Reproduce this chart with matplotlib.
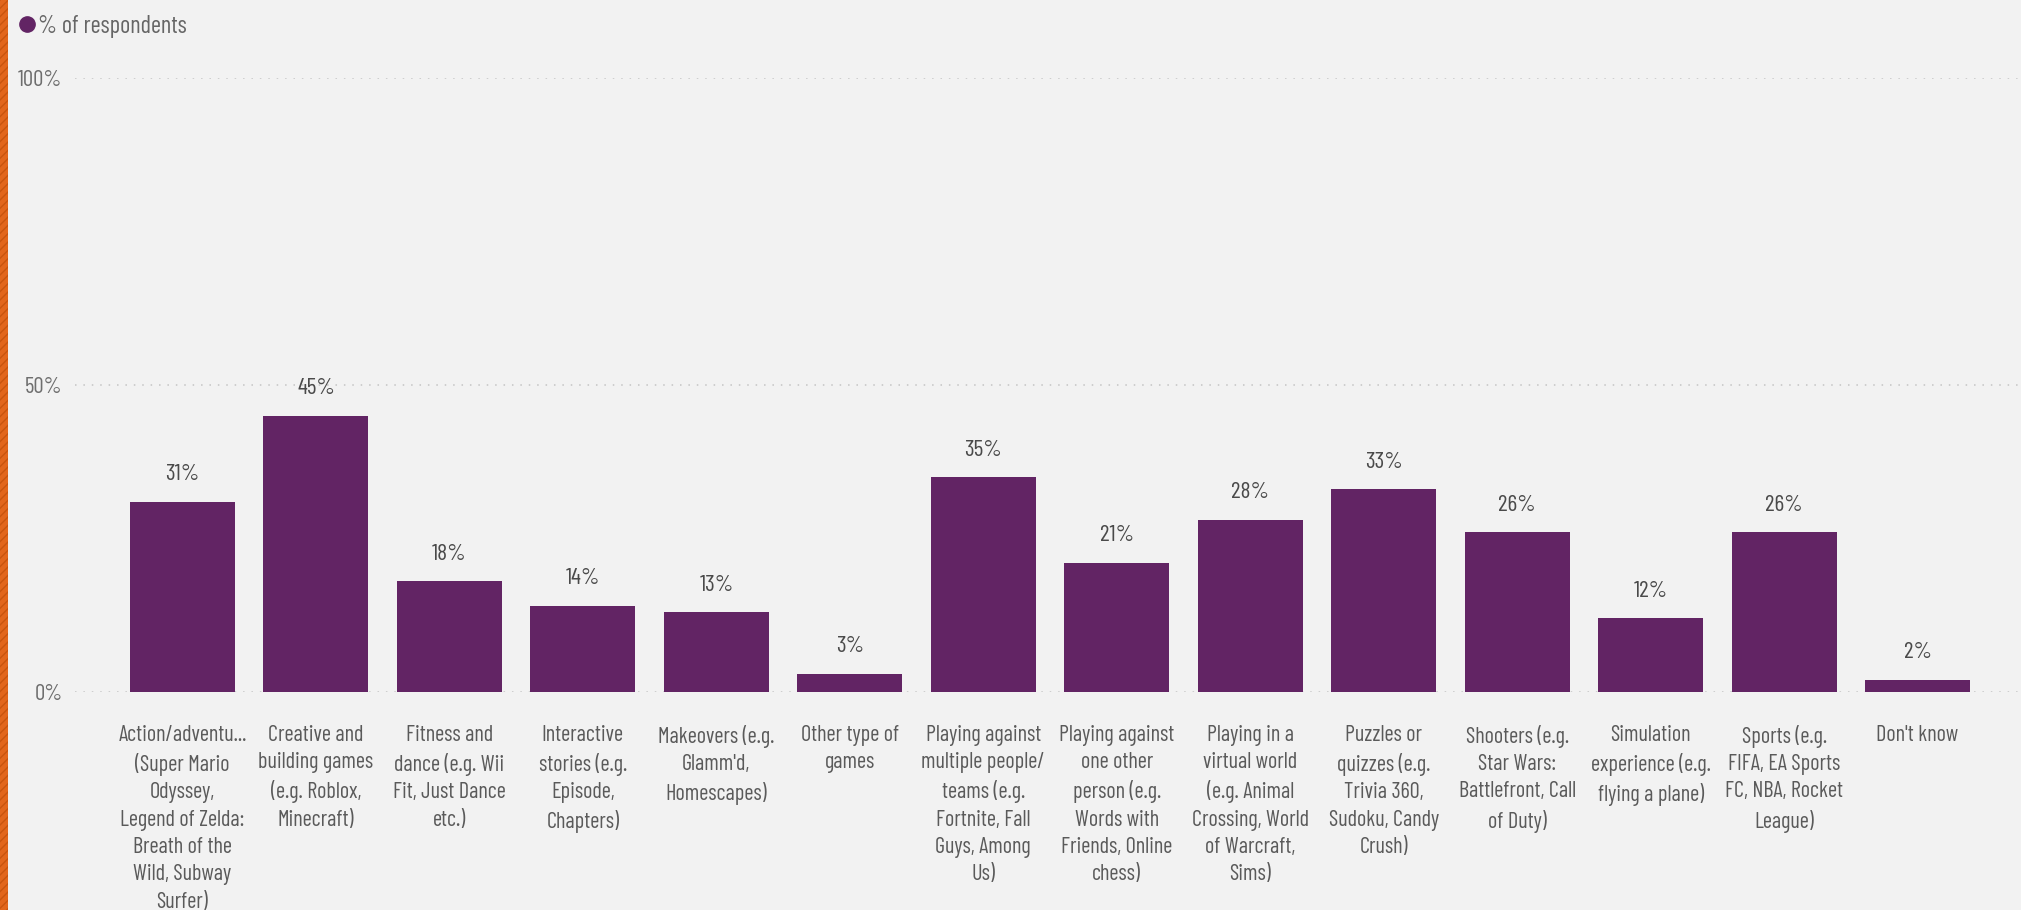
import matplotlib
matplotlib.use("Agg")
import matplotlib.pyplot as plt
from matplotlib import font_manager
from matplotlib.lines import Line2D
from matplotlib.patches import Rectangle

categories = [
    "Action/adventu...\n(Super Mario\nOdyssey,\nLegend of Zelda:\nBreath of the\nWild, Subway\nSurfer)",
    "Creative and\nbuilding games\n(e.g. Roblox,\nMinecraft)",
    "Fitness and\ndance (e.g. Wii\nFit, Just Dance\netc.)",
    "Interactive\nstories (e.g.\nEpisode,\nChapters)",
    "Makeovers (e.g.\nGlamm'd,\nHomescapes)",
    "Other type of\ngames",
    "Playing against\nmultiple people/\nteams (e.g.\nFortnite, Fall\nGuys, Among\nUs)",
    "Playing against\none other\nperson (e.g.\nWords with\nFriends, Online\nchess)",
    "Playing in a\nvirtual world\n(e.g. Animal\nCrossing, World\nof Warcraft,\nSims)",
    "Puzzles or\nquizzes (e.g.\nTrivia 360,\nSudoku, Candy\nCrush)",
    "Shooters (e.g.\nStar Wars:\nBattlefront, Call\nof Duty)",
    "Simulation\nexperience (e.g.\nflying a plane)",
    "Sports (e.g.\nFIFA, EA Sports\nFC, NBA, Rocket\nLeague)",
    "Don't know",
]
respondents = [31, 45, 18, 14, 13, 3, 35, 21, 28, 33, 26, 12, 26, 2]
y_ticks = [0, 50, 100]
y_tick_labels = ["0%", "50%", "100%"]

PURPLE = "#622464"
BG = "#F2F2F2"

# narrow DIN-like face if available
installed = {f.name for f in font_manager.fontManager.ttflist}
font = next((f for f in ["Barlow Condensed", "Roboto Condensed", "IBM Plex Sans Condensed",
                         "Open Sans Condensed"] if f in installed), "DejaVu Sans")
plt.rcParams["font.family"] = [font, "DejaVu Sans"]

fig = plt.figure(figsize=(20.21, 9.10), dpi=100, facecolor=BG)
ax = fig.add_axes([75 / 2021, 218 / 910, 1 - 75 / 2021, 614 / 910], facecolor=BG)

x = range(len(categories))
bars = ax.bar(x, respondents, width=0.787, color=PURPLE, zorder=2)

for bar, v in zip(bars, respondents):
    ax.annotate(f"{v}%", (bar.get_x() + bar.get_width() / 2, v),
                xytext=(0, 19.5), textcoords="offset points",
                ha="center", va="center", fontsize=17, color="#4A4A4A")

ax.set_xlim(-0.805, 13.775)
ax.set_ylim(0, 100)
ax.set_yticks(y_ticks)
ax.set_yticklabels(y_tick_labels, fontsize=16.5, color="#6E6E6E")
ax.set_xticks(list(x))
ax.set_xticklabels(categories, fontsize=16, color="#5A5A5A",
                   linespacing=1.40, multialignment="center")
ax.tick_params(axis="both", length=0)
ax.tick_params(axis="y", pad=9)
ax.tick_params(axis="x", pad=23.5)

ax.set_axisbelow(True)
ax.yaxis.grid(True, color="#C4C4C4", linewidth=1.1, linestyle=(0, (1, 4.5)))
for s in ax.spines.values():
    s.set_visible(False)

# legend at the top left
handle = Line2D([], [], marker="o", linestyle="", color=PURPLE, markersize=11)
fig.legend([handle], ["% of respondents"], loc="center left",
           bbox_to_anchor=(18 / 2021, 1 - 26 / 910), frameon=False,
           handlelength=0.7, handletextpad=0.12, borderpad=0, borderaxespad=0,
           fontsize=17.5, labelcolor="#666666")

# orange edge strip
fig.patches.append(Rectangle((0, 0), 8 / 2021, 1, transform=fig.transFigure,
                             facecolor="#E2661C", edgecolor="#C9550F",
                             hatch="////", linewidth=0))

fig.savefig("out.png", dpi=100, facecolor=BG)
